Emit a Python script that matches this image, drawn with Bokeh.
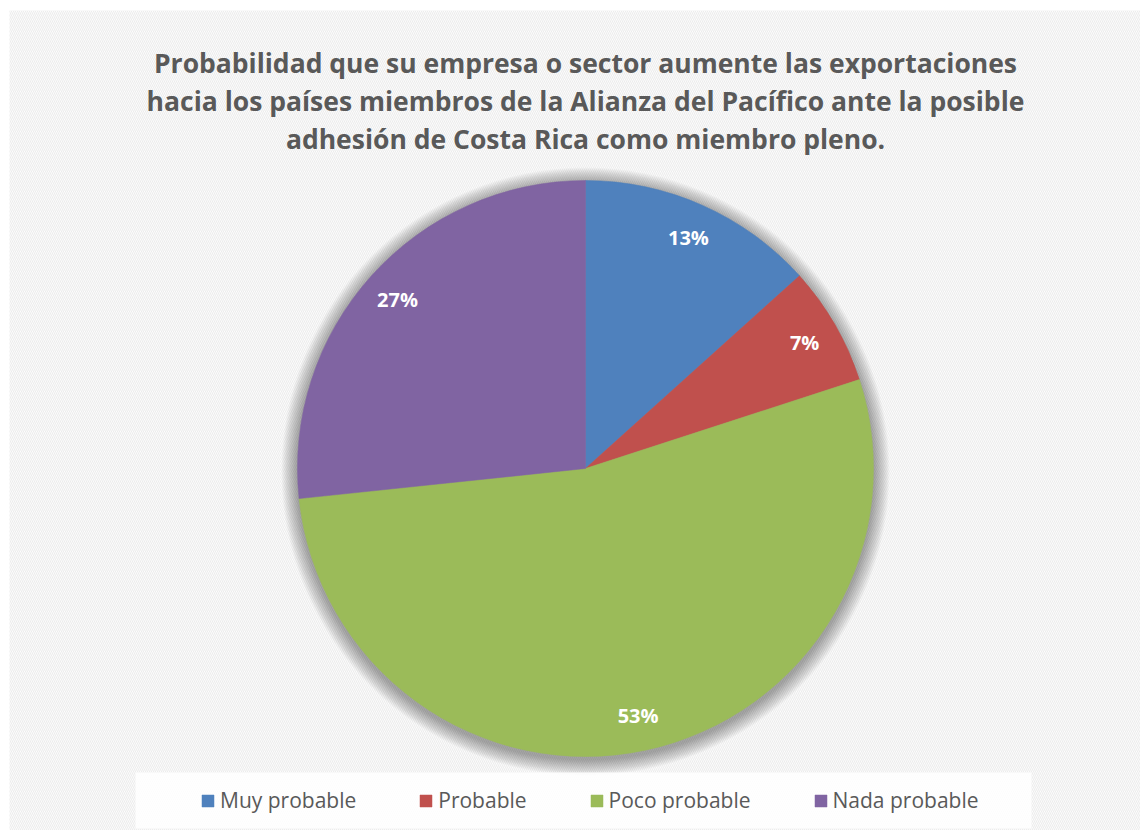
import math
from bokeh.plotting import figure
from bokeh.models import Range1d, Legend, LegendItem, ColumnDataSource
from bokeh.core.properties import value
from bokeh.embed import file_html
from bokeh.resources import INLINE

# ---- data ----
categories = ["Muy probable", "Probable", "Poco probable", "Nada probable"]
counts = [2, 1, 8, 4]
colors = ["#4F81BD", "#C0504D", "#9BBB59", "#8064A2"]
title_lines = [
    "Probabilidad que su empresa o sector aumente las exportaciones",
    "hacia los países miembros de la Alianza del Pacífico ante la posible",
    "adhesión de Costa Rica como miembro pleno.",
]

W, H = 1140, 830
p = figure(width=W, height=H, output_backend="svg", toolbar_location=None,
           x_range=Range1d(0, W), y_range=Range1d(0, H), min_border=0)
p.axis.visible = False
p.grid.visible = False
p.outline_line_color = None
p.background_fill_color = "white"
p.border_fill_color = "white"

# hatched chart background
p.quad(left=[9], right=[W], bottom=[0], top=[H - 10], fill_color="white", line_color=None,
       hatch_pattern="left_diagonal_line", hatch_color="#ececec", hatch_scale=4, hatch_weight=1.1)

cx, cy, R = 585, 362, 288

# soft shadow
for i in range(16, 0, -1):
    p.circle(x=[cx], y=[cy - 3], radius=R + i, fill_color="#000000", fill_alpha=0.022,
             line_color=None)

total = sum(counts)
fracs = [c / total for c in counts]
starts, ends, mids = [], [], []
acc = 0.0
for f in fracs:
    a0 = math.pi / 2 - 2 * math.pi * acc
    a1 = math.pi / 2 - 2 * math.pi * (acc + f)
    starts.append(a0)
    ends.append(a1)
    mids.append((a0 + a1) / 2)
    acc += f

labels = [f"{round(f * 100)}%" for f in fracs]
rl = 253
src = ColumnDataSource(dict(cat=categories, start=starts, end=ends, color=colors,
                            lx=[cx + rl * math.cos(m) for m in mids],
                            ly=[cy + rl * math.sin(m) for m in mids],
                            lab=labels))

wr = p.wedge(x=cx, y=cy, radius=R, start_angle="start", end_angle="end", direction="clock",
             fill_color="color", line_color="color", line_width=0.5, source=src)

p.text(x="lx", y="ly", text="lab", source=src, text_color="white",
       text_font=value("Open Sans"), text_font_style="bold", text_font_size="20px",
       text_align="center", text_baseline="middle")

# title
p.text(x=[cx] * 3, y=[768, 730, 692], text=title_lines, text_color="#595959",
       text_font=value("Open Sans"), text_font_style="bold", text_font_size="26.5px",
       text_align="center", text_baseline="alphabetic")

# legend box
p.quad(left=[135], right=[1031], bottom=[2], top=[58], fill_color="white", fill_alpha=0.85,
       line_color=None)

items = [LegendItem(label=c, renderers=[wr], index=i) for i, c in enumerate(categories)]
legend = Legend(items=items, orientation="horizontal", location=(200, 16),
                padding=0, margin=0, spacing=62, label_standoff=5,
                glyph_width=15, glyph_height=15,
                label_text_font="Open Sans", label_text_font_size="21px",
                label_text_color="#595959", background_fill_alpha=0,
                border_line_alpha=0)
p.add_layout(legend, "center")

open("out.html", "w").write(file_html(p, INLINE))
